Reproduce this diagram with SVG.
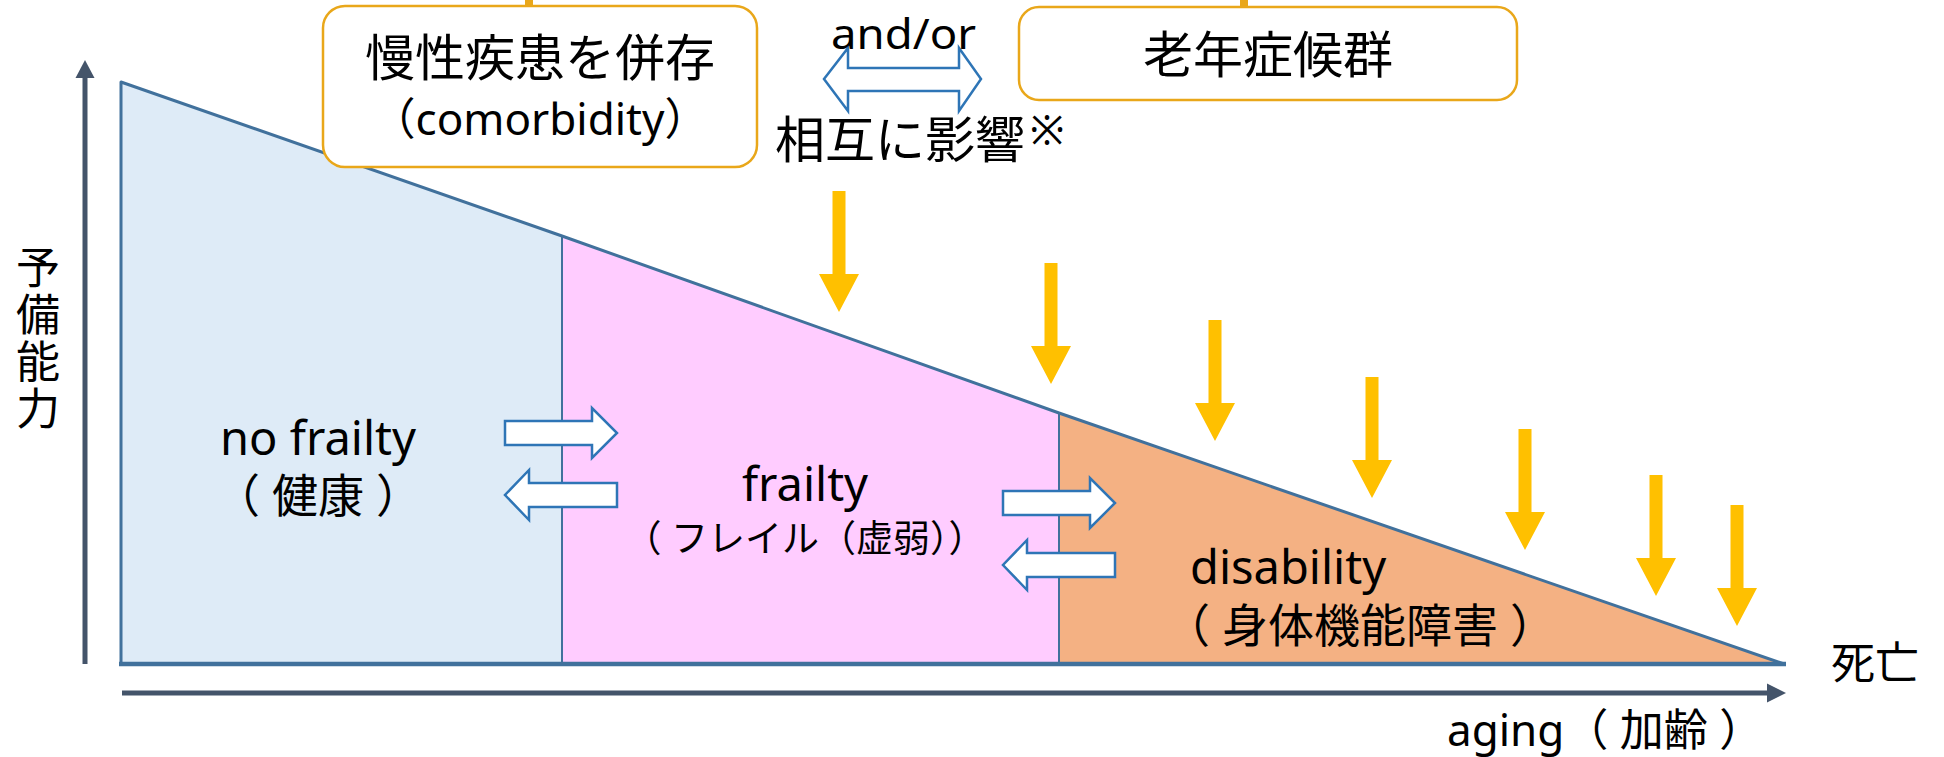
<svg xmlns="http://www.w3.org/2000/svg" xmlns:xlink="http://www.w3.org/1999/xlink" width="1944" height="757" viewBox="0 0 1944 757">
<style>
text{font-family:"Noto Sans","Noto Sans CJK JP",sans-serif;fill:#000}
.box{fill:#fff;stroke:#E9A71A;stroke-width:2.5}
.tick{stroke:#E9A71A;stroke-width:8}
.edge{fill:none;stroke:#41719C;stroke-linejoin:round}
.state{fill:#fff;stroke:#2E75B6;stroke-width:2.5;stroke-linejoin:miter}
.yel{fill:#FFC000}
.axis{stroke:#44546A;stroke-width:5}
.axhead{fill:#44546A}
</style>
<defs>
<path id="ya" d="M-6.5,0 H6.5 V83 H20 L0,121 L-20,83 H-6.5 Z"/>
</defs>
<g id="regions">
<polygon id="no-frailty-area" points="121,82 562,236 562,664 121,664" fill="#DEEBF7"/>
<polygon id="frailty-area" points="562,236 1059,413 1059,664 562,664" fill="#FFCCFF"/>
<polygon id="disability-area" points="1059,413 1784,664 1059,664" fill="#F4B183"/>
<polyline class="edge" stroke-width="3" points="121,664 121,82 562,236 1059,413 1784,664"/>
<line class="edge" stroke-width="2" x1="562" y1="236" x2="562" y2="664"/>
<line class="edge" stroke-width="2" x1="1059" y1="413" x2="1059" y2="664"/>
<line class="edge" stroke-width="4.5" x1="119" y1="664" x2="1786" y2="664"/>
</g>
<g id="axes">
<line class="axis" x1="85" y1="664" x2="85" y2="76"/>
<polygon class="axhead" points="85,60 94.5,78 75.5,78"/>
<line class="axis" x1="122" y1="693" x2="1768" y2="693"/>
<polygon class="axhead" points="1786,693 1767,683.5 1767,702.5"/>
</g>
<g id="connectors">
<line class="tick" x1="529" y1="0" x2="529" y2="7"/>
<line class="tick" x1="1244" y1="0" x2="1244" y2="8"/>
<path id="mutual-arrow" class="state" stroke="#41719C" stroke-width="2" d="M824,79 L848,48 V68 H959 V48 L981,79 L959,111 V91 H848 V111 Z"/>
<path class="state" d="M505,421 H592 V408 L617,433 L592,458 V445 H505 Z"/>
<path class="state" d="M617,483 H529 V470 L505,495 L529,520 V507 H617 Z"/>
<path class="state" d="M1003,491 H1090 V478 L1115,503 L1090,528 V515 H1003 Z"/>
<path class="state" d="M1115,553 H1027 V540 L1003,565 L1027,590 V577 H1115 Z"/>
<use class="yel" xlink:href="#ya" href="#ya" x="839" y="191"/>
<use class="yel" xlink:href="#ya" href="#ya" x="1051" y="263"/>
<use class="yel" xlink:href="#ya" href="#ya" x="1215" y="320"/>
<use class="yel" xlink:href="#ya" href="#ya" x="1372" y="377"/>
<use class="yel" xlink:href="#ya" href="#ya" x="1525" y="429"/>
<use class="yel" xlink:href="#ya" href="#ya" x="1656" y="475"/>
<use class="yel" xlink:href="#ya" href="#ya" x="1737" y="505"/>
</g>
<g id="comorbidity">
<rect class="box" x="323" y="6" width="434" height="161" rx="22"/>
<text x="540" y="76" font-size="50" text-anchor="middle">慢性疾患を併存</text>
<text x="540" y="135" font-size="44" text-anchor="middle">（comorbidity）</text>
</g>
<g id="geriatric-syndrome">
<rect class="box" x="1019" y="7" width="498" height="93" rx="20"/>
<text x="1268" y="73" font-size="50" text-anchor="middle">老年症候群</text>
</g>
<g id="mutual-label">
<text x="831" y="49" font-size="42" textLength="145" lengthAdjust="spacingAndGlyphs">and/or</text>
<text x="775" y="158" font-size="50">相互に影響</text>
<text x="1030" y="145" font-size="41">※</text>
</g>
<g id="y-label">
<text x="36" y="245" font-size="44" writing-mode="vertical-rl" letter-spacing="3">予備能力</text>
</g>
<g id="no-frailty">
<text x="318" y="455" font-size="47" text-anchor="middle">no frailty</text>
<text x="318" y="512" font-size="46" text-anchor="middle">（ 健康 ）</text>
</g>
<g id="frailty">
<text x="805" y="501" font-size="47" text-anchor="middle">frailty</text>
<text x="805" y="552" font-size="37" text-anchor="middle">（ フレイル（虚弱））</text>
</g>
<g id="disability">
<text x="1190" y="584" font-size="47">disability</text>
<text x="1360" y="642" font-size="46" text-anchor="middle">（ 身体機能障害 ）</text>
</g>
<g id="death">
<text x="1875" y="679" font-size="44" text-anchor="middle">死亡</text>
</g>
<g id="aging">
<text x="1447" y="746" font-size="44">aging（ 加齢 ）</text>
</g>
</svg>
